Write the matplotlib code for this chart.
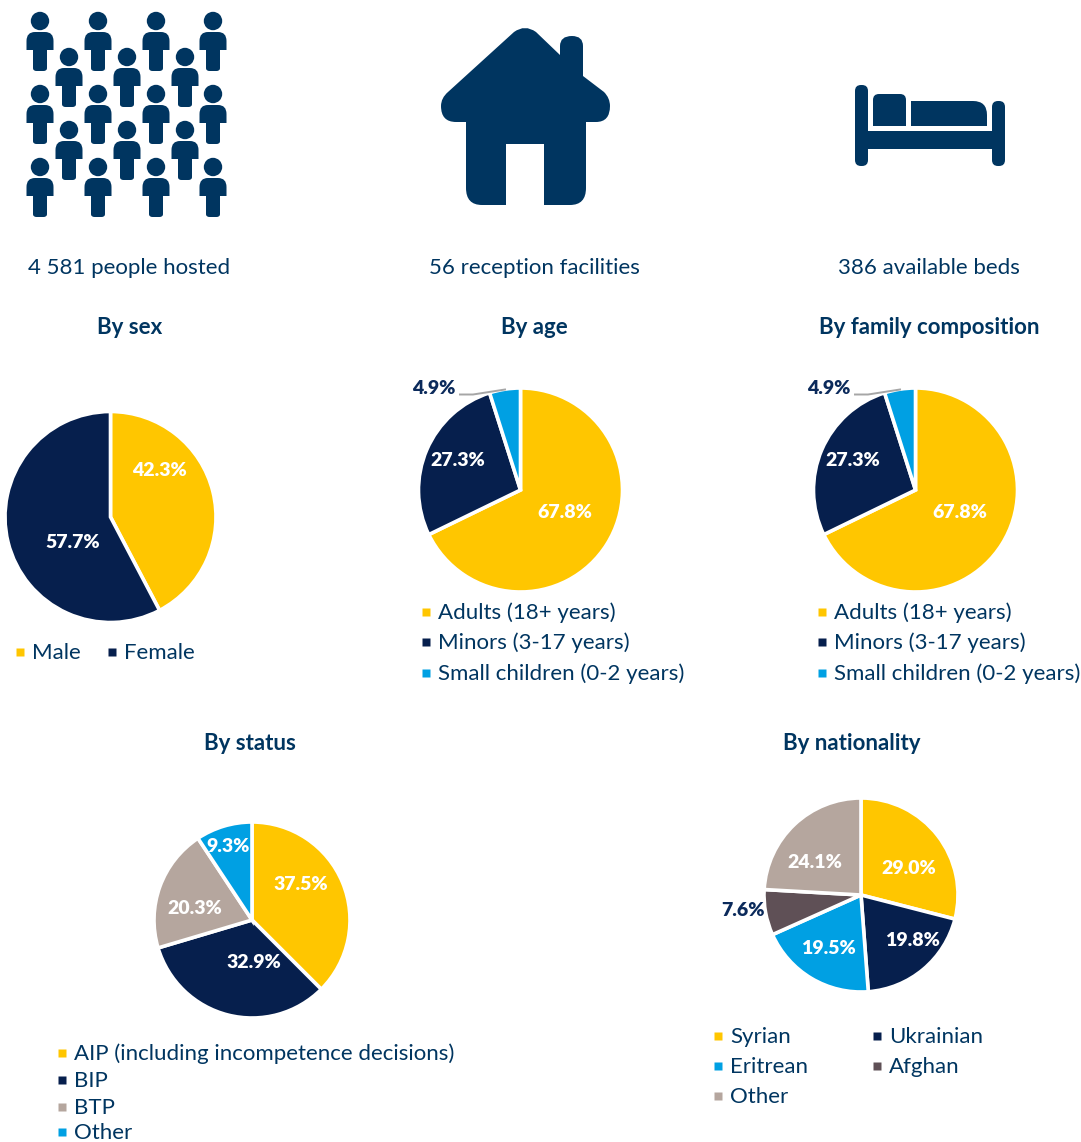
import matplotlib
matplotlib.use("Agg")
import matplotlib.pyplot as plt
from matplotlib.path import Path
from matplotlib.patches import PathPatch, Circle, FancyBboxPatch

plt.rcParams['font.family'] = ['Lato', 'DejaVu Sans']

W, H = 1081, 1142
NAVY = '#003560'
TEXT_NAVY = '#0B2A5B'
YELLOW = '#FFC600'
DARK = '#061F4D'
BLUE = '#00A0E3'
TAUPE = '#B5A69E'
BROWN = '#5F5056'

# chart values
sex_labels = ['Male', 'Female']
sex_values = [42.3, 57.7]
age_labels = ['Adults (18+ years)', 'Minors (3-17 years)', 'Small children (0-2 years)']
age_values = [67.8, 27.3, 4.9]
family_labels = ['Adults (18+ years)', 'Minors (3-17 years)', 'Small children (0-2 years)']
family_values = [67.8, 27.3, 4.9]
status_labels = ['AIP (including incompetence decisions)', 'BIP', 'BTP', 'Other']
status_values = [37.5, 32.9, 20.3, 9.3]
nat_labels = ['Syrian', 'Ukrainian', 'Eritrean', 'Afghan', 'Other']
nat_values = [29.0, 19.8, 19.5, 7.6, 24.1]
kpi_texts = ['4 581 people hosted', '56 reception facilities', '386 available beds']

fig = plt.figure(figsize=(W / 100, H / 100), dpi=100)
# overlays in image pixels, y going down: bg under the pies, top over them
bg = fig.add_axes([0, 0, 1, 1], zorder=0)
top = fig.add_axes([0, 0, 1, 1], zorder=2)
for a in [bg, top]:
    a.set_xlim(0, W)
    a.set_ylim(H, 0)
    a.axis('off')


def pie(values, colors, cx, cy, r, label_pos, label_dark=()):
    ax = fig.add_axes([(cx - r - 2) / W, 1 - (cy + r + 2) / H, (2 * r + 4) / W, (2 * r + 4) / H], zorder=1)
    wedges, _, autotexts = ax.pie(values, colors=colors, startangle=90, counterclock=False,
                                  radius=1, autopct='%.1f%%',
                                  wedgeprops=dict(edgecolor='white', linewidth=2.6))
    ax.set_xlim(-(r + 2) / r, (r + 2) / r)
    ax.set_ylim(-(r + 2) / r, (r + 2) / r)
    for i, t in enumerate(autotexts):
        t.set_transform(bg.transData)
        t.set_position((label_pos[i][0], label_pos[i][1] + 1))
        t.set_fontsize(14)
        t.set_fontweight('heavy')
        t.set_color(TEXT_NAVY if i in label_dark else 'white')


def legend(labels, colors, positions, gap=12):
    for lab, col, (x, y) in zip(labels, colors, positions):
        bg.plot([x], [y], marker='s', ms=6, color=col, mec='none', ls='none')
        bg.text(x + gap, y + 1, lab, fontsize=16, color=NAVY, ha='left', va='center')


# icons
def person(cx, cy):
    bg.add_patch(Circle((cx, cy), 9.2, fc=NAVY, ec='none'))
    verts = [(-7, 47), (-7, 29), (-13.5, 29), (-13.5, 20), (-13.5, 11), (-5, 11), (5, 11),
             (13.5, 11), (13.5, 20), (13.5, 29), (7, 29), (7, 47), (7, 50), (3.5, 50),
             (-3.5, 50), (-7, 50), (-7, 47), (-7, 47)]
    codes = [Path.MOVETO, Path.LINETO, Path.LINETO, Path.LINETO, Path.CURVE3, Path.CURVE3, Path.LINETO,
             Path.CURVE3, Path.CURVE3, Path.LINETO, Path.LINETO, Path.LINETO, Path.CURVE3, Path.CURVE3,
             Path.LINETO, Path.CURVE3, Path.CURVE3, Path.CLOSEPOLY]
    verts = [(cx + a, cy + b) for a, b in verts]
    bg.add_patch(PathPatch(Path(verts, codes), fc=NAVY, ec='none'))


for hy in [21, 94, 167]:
    for hx in [40, 98, 156, 213]:
        person(hx, hy)
for hy in [57, 130]:
    for hx in [69, 127, 185]:
        person(hx, hy)

L, C = Path.LINETO, Path.CURVE3
house = [
    ((506, 205), Path.MOVETO), ((506, 144), L), ((544, 144), L), ((544, 205), L),
    ((570, 205), L), ((586, 205), C), ((586, 188), C), ((586, 122), L),
    ((596, 122), L), ((610, 122), C), ((610, 106), C), ((610, 98), C), ((604, 92), C),
    ((583, 76), L), ((583, 46), L), ((583, 36), C), ((572, 36), C), ((560, 36), C), ((560, 46), C),
    ((560, 55), L), ((536, 32), L), ((525, 24), C), ((514, 32), C),
    ((448, 92), L), ((441, 98), C), ((441, 106), C), ((441, 122), C), ((456, 122), C),
    ((466, 122), L), ((466, 188), L), ((466, 205), C), ((482, 205), C),
    ((506, 205), L), ((506, 205), Path.CLOSEPOLY),
]
bg.add_patch(PathPatch(Path([v for v, c in house], [c for v, c in house]), fc=NAVY, ec='none'))


def rbox(x0, y0, x1, y1, rad):
    bg.add_patch(FancyBboxPatch((x0 + rad, y0 + rad), x1 - x0 - 2 * rad, y1 - y0 - 2 * rad,
                                boxstyle='round,pad=%s,rounding_size=%s' % (rad, rad), fc=NAVY, ec='none'))


# bed
rbox(855, 85, 868, 166, 6)
rbox(992, 101, 1005, 166, 6)
rbox(860, 131, 1000, 149, 0.1)
pillow = [((873, 126), Path.MOVETO), ((873, 100), L), ((873, 94), C), ((879, 94), C), ((900, 94), L),
          ((906, 94), C), ((906, 100), C), ((906, 126), L), ((873, 126), Path.CLOSEPOLY)]
bg.add_patch(PathPatch(Path([v for v, c in pillow], [c for v, c in pillow]), fc=NAVY, ec='none'))
mattress = [((911, 126), Path.MOVETO), ((911, 101), L), ((973, 101), L), ((987, 101), C), ((987, 115), C),
            ((987, 126), L), ((911, 126), Path.CLOSEPOLY)]
bg.add_patch(PathPatch(Path([v for v, c in mattress], [c for v, c in mattress]), fc=NAVY, ec='none'))

# top texts and titles
for txt, x in zip(kpi_texts, [129, 534, 929]):
    bg.text(x, 267.5, txt, fontsize=16, color=NAVY, ha='center', va='center')
for txt, x, y in [('By sex', 130, 327), ('By age', 534, 327), ('By family composition', 929, 327),
                  ('By status', 250, 743), ('By nationality', 852, 743)]:
    bg.text(x, y, txt, fontsize=16, fontweight='bold', color=NAVY, ha='center', va='center')

# pies
pie(sex_values, [YELLOW, DARK], 110.5, 517, 105.5, [(159, 470), (73, 541)])
legend(sex_labels, [YELLOW, DARK], [(20, 652), (112, 652)])

age_colors = [YELLOW, DARK, BLUE]
pie(age_values, age_colors, 520.5, 490, 102, [(565, 512), (458, 459), (434, 387)], label_dark=[2])
legend(age_labels, age_colors, [(426, 612), (426, 642), (426, 673)])
top.plot([460, 473, 505], [394.5, 394.5, 389.5], color='#A6A6A6', lw=1.4)

pie(family_values, age_colors, 915.5, 490, 102, [(960, 512), (853, 459), (829, 387)], label_dark=[2])
legend(family_labels, age_colors, [(822, 612), (822, 642), (822, 673)])
top.plot([855, 868, 900], [394.5, 394.5, 389.5], color='#A6A6A6', lw=1.4)

status_colors = [YELLOW, DARK, TAUPE, BLUE]
pie(status_values, status_colors, 252, 920, 98, [(301, 884), (254, 961), (195, 908), (228, 845)])
legend(status_labels, status_colors, [(62, 1053), (62, 1080), (62, 1107), (62, 1132)])

nat_colors = [YELLOW, DARK, BLUE, BROWN, TAUPE]
pie(nat_values, nat_colors, 861, 895, 97, [(909, 867), (912, 939), (828, 948), (743, 910), (815, 861)], label_dark=[3])
legend(nat_labels, nat_colors, [(718, 1036), (877, 1036), (718, 1066), (877, 1066), (718, 1096)])

fig.savefig('out.png', dpi=100)
